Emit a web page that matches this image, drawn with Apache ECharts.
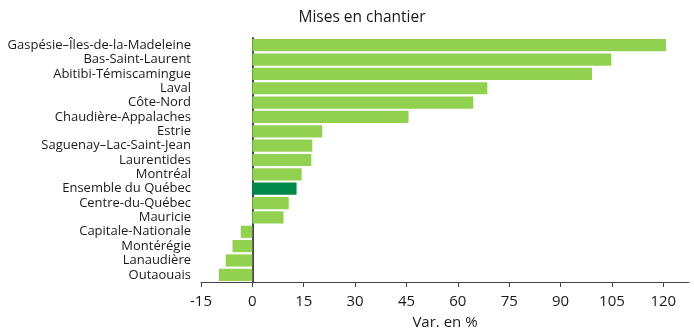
<!DOCTYPE html>
<html><head><meta charset="utf-8">
<script src="https://cdn.jsdelivr.net/npm/echarts@6/dist/echarts.min.js"></script>
<style>html,body{margin:0;padding:0;background:#fff}#c{width:694px;height:329px}</style>
</head><body><div id="c"></div>
<script>
const categories = ["Gaspésie–Îles-de-la-Madeleine","Bas-Saint-Laurent","Abitibi-Témiscamingue","Laval","Côte-Nord","Chaudière-Appalaches","Estrie","Saguenay–Lac-Saint-Jean","Laurentides","Montréal","Ensemble du Québec","Centre-du-Québec","Mauricie","Capitale-Nationale","Montérégie","Lanaudière","Outaouais"];
const values = [120.8,104.8,99.2,68.6,64.5,45.6,20.4,17.5,17.2,14.4,12.9,10.6,9.1,-3.4,-5.8,-7.8,-9.8];
const highlight = "Ensemble du Québec";
const tickValues = [-15,0,15,30,45,60,75,90,105,120];
const title = "Mises en chantier";
const xName = "Var. en %";

const chart = echarts.init(document.getElementById('c'));
chart.setOption({
  animation:false,
  textStyle:{fontFamily:'Open Sans'},
  title:{text:title,left:357,top:5,textAlign:'center',textStyle:{fontSize:15.5,fontWeight:'normal',color:'#1a1a1a',fontFamily:'Open Sans'}},
  grid:{left:201,right:5,top:38,bottom:47,containLabel:false,outerBoundsMode:'none'},
  xAxis:{type:'value',min:-15,max:127.5,interval:15,
    name:xName,nameLocation:'middle',nameGap:33,nameTextStyle:{fontSize:15,color:'#1a1a1a'},
    axisLine:{show:true,lineStyle:{color:'#444',width:1}},
    axisTick:{show:true,length:5,customValues:tickValues,lineStyle:{color:'#444'}},
    axisLabel:{fontSize:15,color:'#1a1a1a',margin:12,customValues:tickValues},
    splitLine:{show:false}},
  yAxis:{type:'category',data:categories,inverse:true,
    axisLine:{show:true,onZero:true,lineStyle:{color:'#444',width:2}},
    axisTick:{show:false},
    axisLabel:{fontSize:13,color:'#1a1a1a',margin:10,interval:0}},
  series:[{type:'bar',barCategoryGap:'15%',
    data:values.map((v,i)=>({value:v,itemStyle:{color:categories[i]===highlight?'#00884C':'#92D050'}}))}]
});
</script></body></html>
